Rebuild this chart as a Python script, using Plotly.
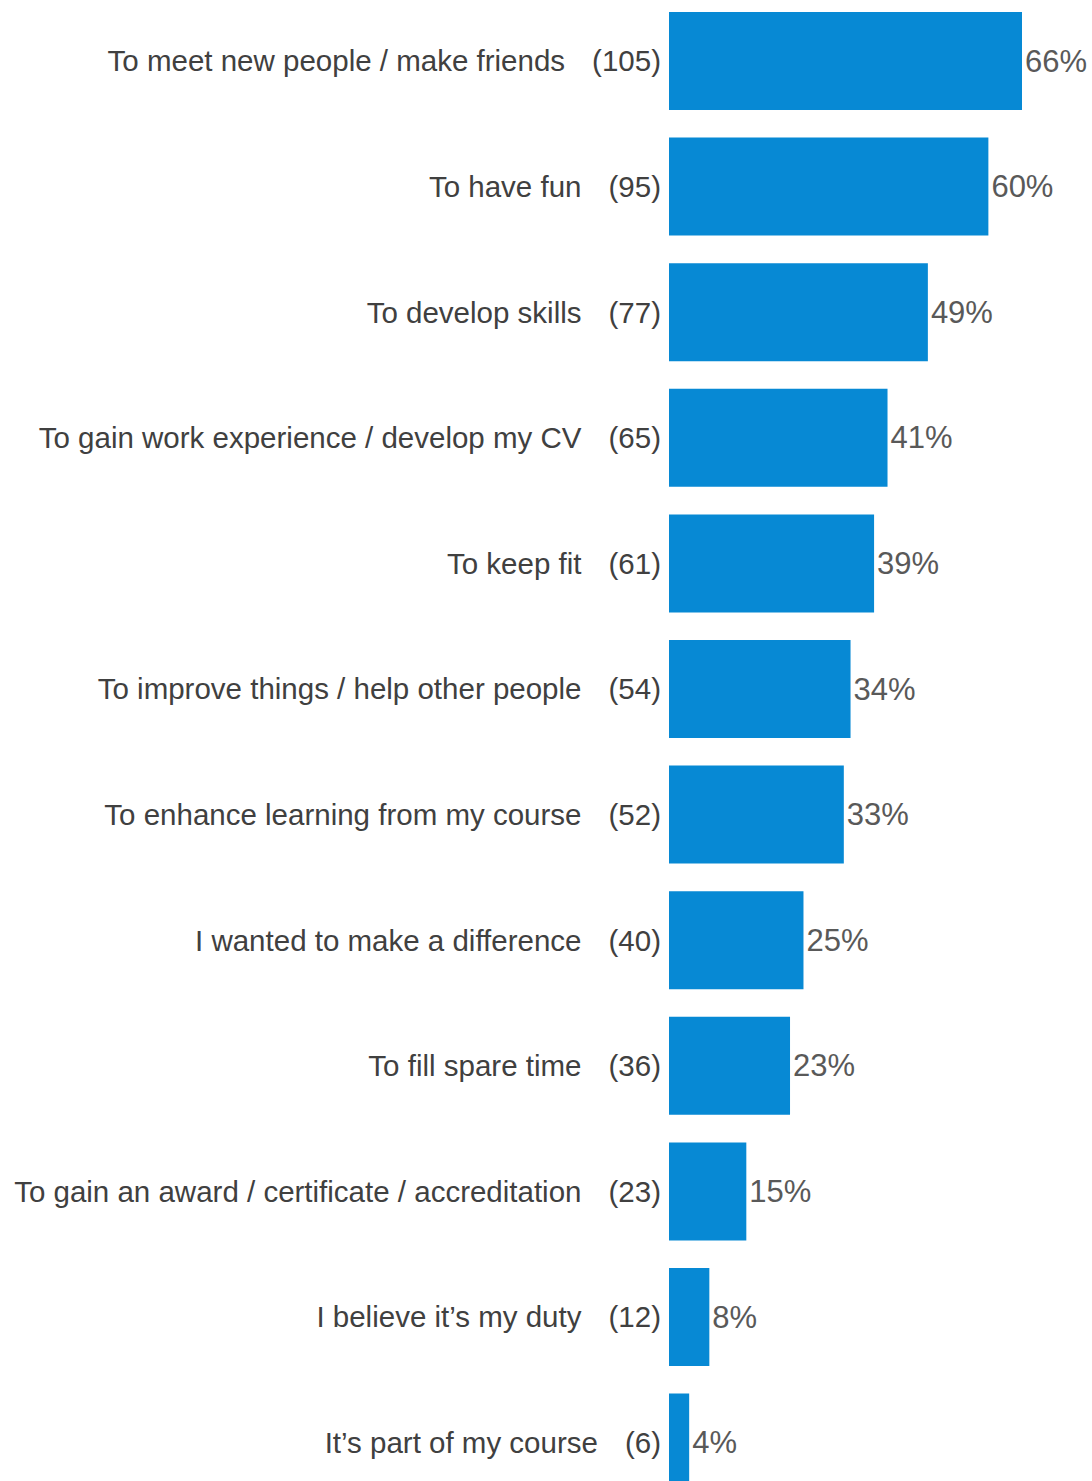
import plotly.graph_objects as go

categories = [
    "To meet new people / make friends",
    "To have fun",
    "To develop skills",
    "To gain work experience / develop my CV",
    "To keep fit",
    "To improve things / help other people",
    "To enhance learning from my course",
    "I wanted to make a difference",
    "To fill spare time",
    "To gain an award / certificate / accreditation",
    "I believe it\u2019s my duty",
    "It\u2019s part of my course",
]
counts = [105, 95, 77, 65, 61, 54, 52, 40, 36, 23, 12, 6]
percents = [66, 60, 49, 41, 39, 34, 33, 25, 23, 15, 8, 4]

W, H = 1092, 1481
left = 669
px_per_count = 353 / 105
slot = 125.6
first_center = 61

positions = list(range(len(categories)))
ticktext = [f"{c}\u00a0\u00a0\u00a0\u200a({n})" for c, n in zip(categories, counts)]

FONT = "Liberation Sans, Arial"

fig = go.Figure(go.Bar(
    y=positions,
    x=counts,
    orientation="h",
    width=0.78,
    marker=dict(color="#0789D4", line=dict(width=0)),
    text=[f"{p}%" for p in percents],
    textposition="outside",
    cliponaxis=False,
    textfont=dict(family=FONT, size=31, color="#595959"),
    hoverinfo="skip",
))

r0 = -first_center / slot
r1 = r0 + H / slot
xmax = (W - left) / px_per_count

fig.update_layout(
    width=W, height=H,
    margin=dict(l=left, r=0, t=0, b=0, autoexpand=False),
    paper_bgcolor="white", plot_bgcolor="white",
    showlegend=False,
    font=dict(family=FONT, color="#404040"),
    xaxis=dict(range=[0, xmax], visible=False, fixedrange=True),
    yaxis=dict(range=[r1, r0], tickvals=positions, ticktext=ticktext,
               tickfont=dict(family=FONT, size=29.5, color="#404040"),
               showgrid=False, zeroline=False, showline=False, ticks="",
               ticklabelstandoff=7),
    uniformtext=dict(mode=False),
)

fig.write_html(
    "out.html",
    config={"displayModeBar": False},
    post_script="document.documentElement.style.margin='0';document.body.style.margin='0';"
                "document.documentElement.style.overflow='hidden';document.body.style.overflow='hidden';",
)
